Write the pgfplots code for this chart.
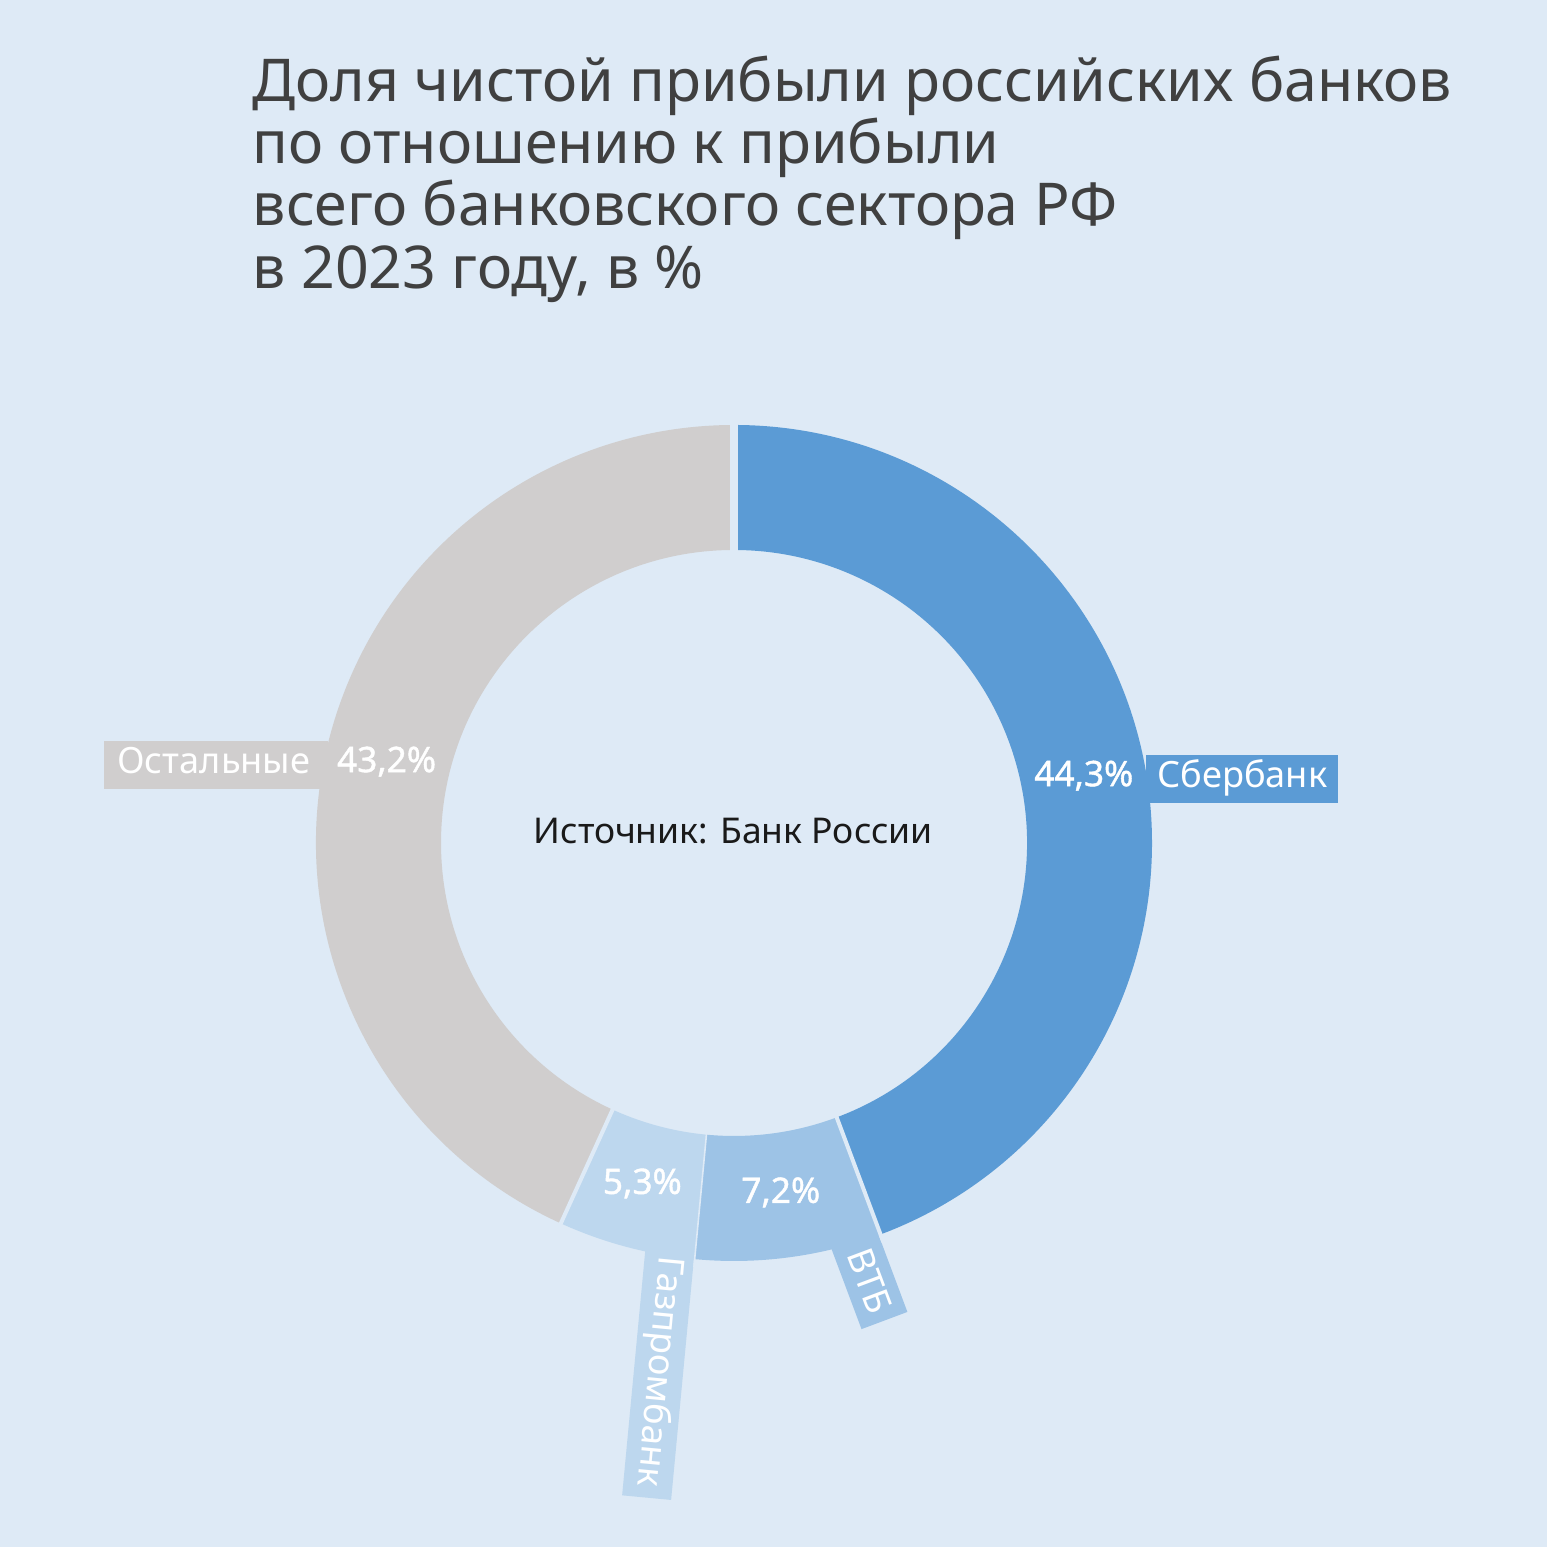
\documentclass[border=0pt]{standalone}
\usepackage{fontspec}
\setmainfont{Noto Sans}
\usepackage{pgfplots}
\pgfplotsset{compat=1.18}
\definecolor{bg}{HTML}{DEEAF6}
\definecolor{csber}{HTML}{5B9BD5}
\definecolor{cvtb}{HTML}{9DC3E6}
\definecolor{cgaz}{HTML}{BDD7EE}
\definecolor{coth}{HTML}{D0CECE}
\definecolor{ctitle}{HTML}{404040}
\definecolor{csrc}{HTML}{1A1A1A}
% data (share of net profit, %)
\def\vS{44.3}\def\vV{7.2}\def\vG{5.3}\def\vO{43.2}
\def\Ro{4.18}\def\Ri{2.93}
\newcommand\seg[3]{\fill[#1] (axis cs:{\Ro*cos(#2)},{\Ro*sin(#2)}) arc[start angle=#2,end angle=#3,radius=\Ro cm] -- (axis cs:{\Ri*cos(#3)},{\Ri*sin(#3)}) arc[start angle=#3,end angle=#2,radius=\Ri cm] -- cycle;}
% radial box: color, angle, r1, r2, off1, off2
\newcommand\radbox[6]{\fill[#1] (axis cs:{#3*cos(#2)+#5*sin(#2)},{#3*sin(#2)-#5*cos(#2)}) -- (axis cs:{#4*cos(#2)+#5*sin(#2)},{#4*sin(#2)-#5*cos(#2)}) -- (axis cs:{#4*cos(#2)+#6*sin(#2)},{#4*sin(#2)-#6*cos(#2)}) -- (axis cs:{#3*cos(#2)+#6*sin(#2)},{#3*sin(#2)-#6*cos(#2)}) -- cycle;}
\newcommand\gap[2]{\draw[bg,line width=#2cm] (axis cs:{2.85*cos(#1)},{2.85*sin(#1)}) -- (axis cs:{4.26*cos(#1)},{4.26*sin(#1)});}
\newcommand\lblfont{\fontsize{10.3}{12}\selectfont}
\newcommand\pctfont{\fontsize{10}{12}\selectfont\addfontfeature{FakeBold=1.2}}
\begin{document}%
\begin{tikzpicture}[x=1cm,y=1cm]
\pgfmathsetmacro\bA{90}
\pgfmathsetmacro\bB{90-3.6*\vS}
\pgfmathsetmacro\bC{\bB-3.6*\vV}
\pgfmathsetmacro\bD{\bC-3.6*\vG}
\pgfmathsetmacro\bE{\bD-3.6*\vO}
\pgfmathsetmacro\mS{(\bA+\bB)/2}
\pgfmathsetmacro\mV{(\bB+\bC)/2}
\pgfmathsetmacro\mG{(\bC+\bD)/2}
\pgfmathsetmacro\mO{(\bD+\bE)/2}
\fill[bg] (0,0) rectangle (15.47,15.47);
\begin{scope}[every node/.style={anchor=base west,inner sep=0pt,text=ctitle,font=\fontsize{16.8}{18}\selectfont}]
\node at (2.52,14.45) {Доля чистой прибыли российских банков};
\node at (2.52,13.83) {по отношению к прибыли};
\node at (2.52,13.21) {всего банковского сектора РФ};
\node at (2.52,12.58) {в 2023 году, в \%};
\end{scope}
\begin{axis}[x=1cm,y=1cm,xmin=-7.34,xmax=8.13,ymin=-7.04,ymax=8.43,
  hide axis,clip=false,at={(0,0)},anchor=south west]
\seg{csber}{\bA}{\bB}
\seg{cvtb}{\bB}{\bC}
\seg{cgaz}{\bC}{\bD}
\seg{coth}{\bD}{\bE}
% label boxes
\radbox{cvtb}{\bB}{4.0}{5.0}{0.02}{0.51}
\radbox{cgaz}{\bC}{4.0}{6.6}{0.008}{0.50}
\fill[csber] (axis cs:4.12,0.40) rectangle (axis cs:6.04,0.88);
\fill[coth] (axis cs:-6.30,0.54) rectangle (axis cs:-4.06,1.02);
% gaps
\gap{\bA}{0.076}
\gap{\bB}{0.04}
\gap{\bC}{0.016}
\gap{\bD}{0.04}
% percentages
\node[text=white,font=\pctfont,inner sep=0pt] at (axis cs:{3.555*cos(\mS)},{3.555*sin(\mS)+0.04}) {44,3\%};
\node[text=white,font=\pctfont,inner sep=0pt] at (axis cs:{3.555*cos(\mV)},{3.555*sin(\mV)+0.03}) {7,2\%};
\node[text=white,font=\pctfont,inner sep=0pt] at (axis cs:{3.555*cos(\mG)},{3.555*sin(\mG)+0.03}) {5,3\%};
\node[text=white,font=\pctfont,inner sep=0pt] at (axis cs:{3.555*cos(\mO)},{3.555*sin(\mO)+0.06}) {43,2\%};
% names
\node[text=white,font=\lblfont,anchor=base west,inner sep=0pt] at (axis cs:4.227,0.55) {Сбербанк};
\node[text=white,font=\lblfont,anchor=base west,inner sep=0pt] at (axis cs:-6.173,0.69) {Остальные};
\node[text=white,font=\lblfont,inner sep=0pt,rotate=\bB] at (axis cs:{4.58*cos(\bB)+0.265*sin(\bB)},{4.58*sin(\bB)-0.265*cos(\bB)}) {ВТБ};
\node[text=white,font=\lblfont,inner sep=0pt,rotate=\bC] at (axis cs:{5.33*cos(\bC)+0.254*sin(\bC)},{5.33*sin(\bC)-0.254*cos(\bC)}) {Газпромбанк};
% source
\node[text=csrc,font=\fontsize{10.1}{12}\selectfont,anchor=base,inner sep=0pt] at (axis cs:-0.007,-0.01) {Источник: Банк России};
\end{axis}
\pgfresetboundingbox
\useasboundingbox (0,0) rectangle (15.47,15.47);
\end{tikzpicture}%
\end{document}
